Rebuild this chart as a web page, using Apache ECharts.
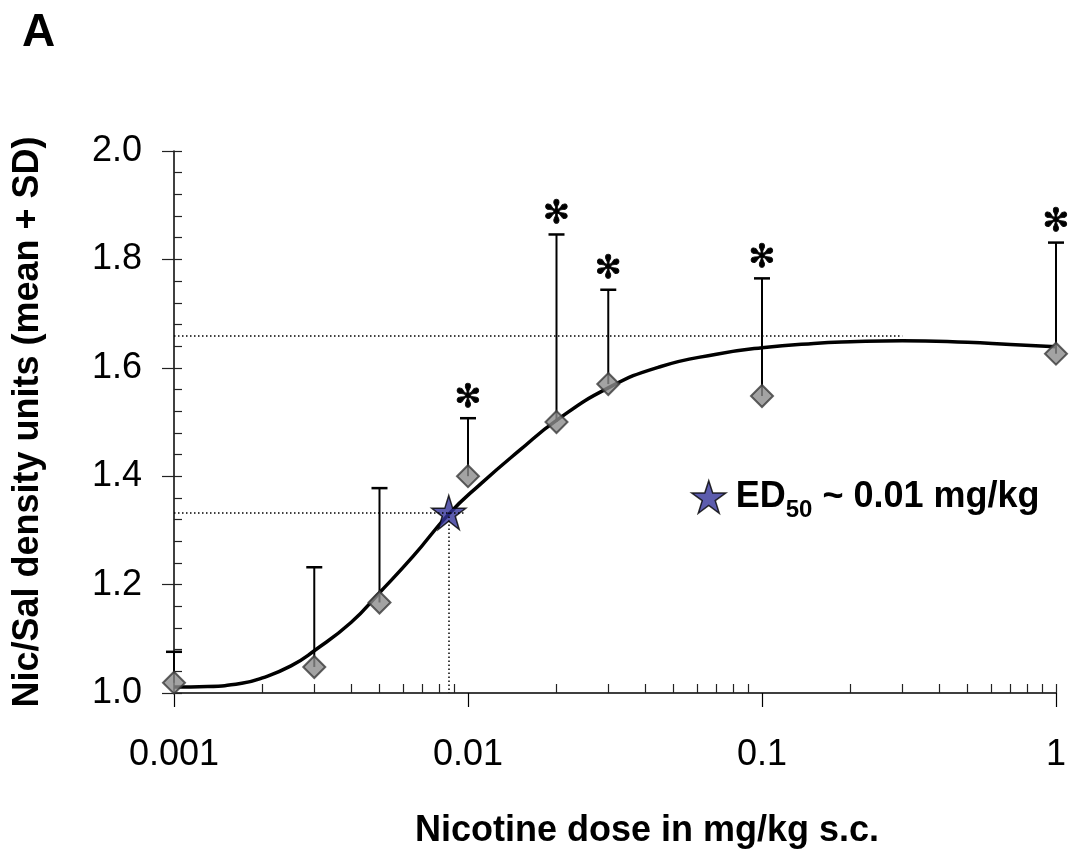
<!DOCTYPE html>
<html>
<head>
<meta charset="utf-8">
<title>Nicotine dose response</title>
<script src="https://cdn.jsdelivr.net/npm/echarts@6/dist/echarts.min.js"></script>
<style>
    html, body { margin: 0; padding: 0; background: #fff; }
    #chart { width: 1069px; height: 856px; }
</style>
</head>
<body>
<div id="chart"></div>
<script>
    // measured doses (mg/kg) with mean and mean + SD
    var doses = [0.001, 0.003, 0.005, 0.01, 0.02, 0.03, 0.1, 1];
    var means = [1.019, 1.048, 1.167, 1.400, 1.500, 1.570, 1.548, 1.626];
    var upper = [1.076, 1.232, 1.378, 1.507, 1.846, 1.744, 1.765, 1.831];
    var significant = [0, 0, 0, 1, 1, 1, 1, 1];

    // fitted curve
    var curveDoses = [0.001, 0.0013, 0.0017, 0.002, 0.0025, 0.003, 0.004, 0.005, 0.0065, 0.0086, 0.011,
                      0.015, 0.02, 0.03, 0.045, 0.07, 0.1, 0.15, 0.2, 0.3, 0.5, 0.7, 1];
    var curveLevels = [1.011, 1.012, 1.018, 1.028, 1.050, 1.078, 1.130, 1.185, 1.252, 1.330, 1.385,
                       1.448, 1.503, 1.563, 1.602, 1.625, 1.637, 1.645, 1.648, 1.650, 1.647, 1.643, 1.639];

    // ED50 and plateau guide lines
    var ed50Dose = 0.0086;
    var ed50Level = 1.333;
    var ed50LineEnd = 0.0098;
    var plateauLevel = 1.659;
    var plateauEnd = 0.3;

    // axis ticks
    var xTickLabels = ['0.001', '0.01', '0.1', '1'];
    var xMinorTicks = [0.002, 0.003, 0.004, 0.005, 0.006, 0.007, 0.008, 0.009,
                       0.02, 0.03, 0.04, 0.05, 0.06, 0.07, 0.08, 0.09,
                       0.2, 0.3, 0.4, 0.5, 0.6, 0.7, 0.8, 0.9, 1];
    var yMinorTicks = [1.0, 1.04, 1.08, 1.12, 1.16, 1.2, 1.24, 1.28, 1.32, 1.36, 1.4,
                       1.44, 1.48, 1.52, 1.56, 1.6, 1.64, 1.68, 1.72, 1.76, 1.8,
                       1.84, 1.88, 1.92, 1.96, 2.0];

    var starPath = 'path://M50,2 L61,36 L97,36 L68,57 L79,92 L50,70 L21,92 L32,57 L3,36 L39,36 Z';
    var font = 'Liberation Sans, Arial, sans-serif';

    var pointData = doses.map(function (d, i) { return [d, means[i]]; });
    var barData = doses.map(function (d, i) { return [d, means[i], upper[i], significant[i]]; });
    var curveData = curveDoses.map(function (d, i) { return [d, curveLevels[i]]; });

    var myChart = echarts.init(document.getElementById('chart'));
    var option = {
        animation: false,
        backgroundColor: '#fff',
        textStyle: { fontFamily: font },
        grid: { left: 174, right: 13, top: 151, bottom: 163 },
        graphic: [{
            type: 'text', left: 22, top: 10,
            style: { text: 'A', font: 'bold 46px ' + font, fill: '#000' }
        }],
        legend: {
            left: 686, top: 474,
            itemWidth: 34, itemHeight: 34,
            selectedMode: false,
            data: [{
                name: 'ED50', icon: starPath,
                itemStyle: { color: '#333399', borderColor: '#000', borderWidth: 1.5 }
            }],
            formatter: function () { return '{m|ED}{s|50}{t| ~ 0.01 mg/kg}'; },
            textStyle: {
                rich: {
                    m: { fontSize: 36, fontWeight: 'bold', fontFamily: font, color: '#000', lineHeight: 50, padding: [0, 0, 0, 5] },
                    s: { fontSize: 24, fontWeight: 'bold', fontFamily: font, color: '#000', lineHeight: 24, verticalAlign: 'bottom' },
                    t: { fontSize: 36, fontWeight: 'bold', fontFamily: font, color: '#000', lineHeight: 50 }
                }
            }
        },
        xAxis: [{
            type: 'log', logBase: 10, min: 0.001, max: 1,
            name: 'Nicotine dose in mg/kg s.c.',
            nameLocation: 'middle', nameGap: 120,
            nameTextStyle: { fontSize: 36, fontWeight: 'bold', color: '#000', fontFamily: font, padding: [0, 0, 0, 64] },
            axisLine: { lineStyle: { color: '#000', width: 1.5 } },
            axisTick: { inside: false, length: 14, lineStyle: { color: '#000', width: 1.2 } },
            axisLabel: {
                margin: 44, fontSize: 36, color: '#000', fontFamily: font,
                formatter: function (v, i) { return xTickLabels[i]; }
            },
            splitLine: { show: false },
            minorTick: { show: false }
        }, {
            type: 'log', logBase: 10, min: 0.001, max: 1, position: 'bottom',
            axisLine: { show: false },
            axisTick: { inside: true, length: 9, customValues: xMinorTicks, lineStyle: { color: '#222', width: 1.2 } },
            axisLabel: { show: false },
            splitLine: { show: false }
        }],
        yAxis: [{
            type: 'value', min: 1, max: 2, interval: 0.2,
            name: 'Nic/Sal density units (mean + SD)',
            nameLocation: 'middle', nameGap: 128,
            nameTextStyle: { fontSize: 36, fontWeight: 'bold', color: '#000', fontFamily: font },
            axisLine: { show: true, lineStyle: { color: '#000', width: 1.5 } },
            axisTick: { show: true, inside: false, length: 12, lineStyle: { color: '#222', width: 1.2 } },
            axisLabel: {
                margin: 32, fontSize: 36, color: '#000', fontFamily: font,
                formatter: function (v) { return v.toFixed(1); }
            },
            splitLine: { show: false }
        }, {
            type: 'value', min: 1, max: 2, position: 'left',
            axisLine: { show: false },
            axisTick: { show: true, inside: true, length: 8, customValues: yMinorTicks, lineStyle: { color: '#222', width: 1.2 } },
            axisLabel: { show: false },
            splitLine: { show: false }
        }],
        series: [{
            // error bars (mean + SD) with significance stars
            type: 'custom',
            z: 1,
            silent: true,
            data: barData,
            renderItem: function (params, api) {
                var p0 = api.coord([api.value(0), api.value(1)]);
                var p1 = api.coord([api.value(0), api.value(2)]);
                var kids = [{
                    type: 'line',
                    shape: { x1: p0[0], y1: p0[1], x2: p1[0], y2: p1[1] },
                    style: { stroke: '#000', lineWidth: 2 }
                }, {
                    type: 'line',
                    shape: { x1: p1[0] - 8, y1: p1[1], x2: p1[0] + 8, y2: p1[1] },
                    style: { stroke: '#000', lineWidth: 2.5 }
                }];
                if (api.value(3)) {
                    kids.push({
                        type: 'text',
                        style: {
                            text: '\u273B', x: p1[0], y: p1[1] - 20,
                            align: 'center', verticalAlign: 'middle',
                            font: 'bold 32px DejaVu Sans', fill: '#000',
                            stroke: '#000', lineWidth: 0.8
                        }
                    });
                }
                return { type: 'group', children: kids };
            }
        }, {
            name: 'fit',
            type: 'line',
            z: 2,
            data: curveData,
            smooth: 0.5,
            symbol: 'none',
            silent: true,
            lineStyle: { color: '#000', width: 3.5 },
            markLine: {
                silent: true,
                symbol: 'none',
                label: { show: false },
                lineStyle: { color: '#000', width: 1.5, type: [1.5, 2.5] },
                data: [
                    [{ coord: [0.001, ed50Level] }, { coord: [ed50LineEnd, ed50Level] }],
                    [{ coord: [ed50Dose, ed50Level] }, { coord: [ed50Dose, 1] }],
                    [{ coord: [0.001, plateauLevel] }, { coord: [plateauEnd, plateauLevel] }]
                ]
            }
        }, {
            name: 'points',
            type: 'scatter',
            z: 3,
            data: pointData,
            symbol: 'diamond',
            symbolSize: 22,
            itemStyle: { color: '#8c8c8c', borderColor: '#3a3a3a', borderWidth: 2 }
        }, {
            name: 'ED50',
            type: 'scatter',
            z: 4,
            data: [[ed50Dose, ed50Level]],
            symbol: starPath,
            symbolSize: 34,
            itemStyle: { color: '#333399', borderColor: '#000', borderWidth: 1.5 }
        }]
    };
    myChart.setOption(option);
</script>
</body>
</html>
